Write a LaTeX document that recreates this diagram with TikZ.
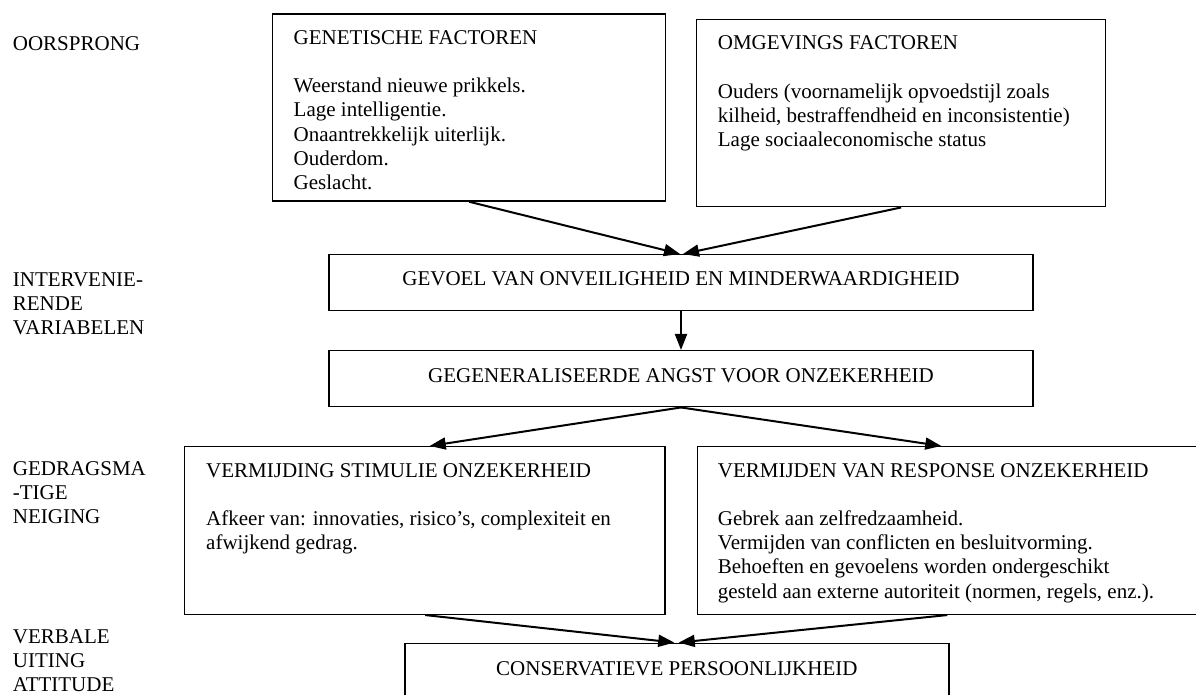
\documentclass[tikz,border=0pt]{standalone}
\usepackage{fontspec}
\setmainfont{Liberation Serif}
\usetikzlibrary{arrows.meta,calc}
\begin{document}
\begin{tikzpicture}[x=1pt,y=-1pt,
  box/.style={draw, line width=1.5pt, inner sep=0pt},
  txt/.style={inner sep=0pt, font=\fontsize{21}{24.2}\selectfont, anchor=base west},
  ctxt/.style={inner sep=0pt, font=\fontsize{21}{24.2}\selectfont, anchor=base},
  arr/.style={line width=2pt, -{Triangle[length=16pt,width=12pt]}}]
\useasboundingbox (0,0) rectangle (1196,694);
\fill[white] (0,0) rectangle (1196,694);
\clip (0,0) rectangle (1196,694);

% boxes
\node[box, minimum width=392.9pt, minimum height=187pt] (gen) at (469.15,107.5) {};
\node[box, minimum width=409.1pt, minimum height=187pt] (omg) at (901.15,113.2) {};
\node[box, minimum width=704pt, minimum height=56pt] (gevoel) at (681,282.7) {};
\node[box, minimum width=704pt, minimum height=56pt] (gegen) at (681,378.7) {};
\node[box, minimum width=480.3pt, minimum height=167.6pt] (stim) at (424.85,530.5) {};
\node[box, minimum width=512.3pt, minimum height=167.6pt] (resp) at (953.85,530.5) {};
\node[box, minimum width=543.8pt, minimum height=76.7pt] (cons) at (676.9,681.65) {};

% texts in boxes
\node[txt] (gent) at (293.5,44.3) {\begin{tabular}[t]{@{}l@{}}GENETISCHE FACTOREN\\ \\ Weerstand nieuwe prikkels.\\ Lage intelligentie.\\ Onaantrekkelijk uiterlijk.\\ Ouderdom.\\ Geslacht.\end{tabular}};
\node[txt] (omgt) at (717.7,49.6) {\begin{tabular}[t]{@{}l@{}}OMGEVINGS FACTOREN\\ \\ Ouders (voornamelijk opvoedstijl zoals\\ kilheid, bestraffendheid en inconsistentie)\\ Lage sociaaleconomische status\end{tabular}};
\node[ctxt] (gevoelt) at (681,285.6) {GEVOEL VAN ONVEILIGHEID EN MINDERWAARDIGHEID};
\node[ctxt] (gegent) at (681,382.5) {GEGENERALISEERDE ANGST VOOR ONZEKERHEID};
\node[txt] (stimt) at (206,477) {\begin{tabular}[t]{@{}l@{}}VERMIJDING STIMULIE ONZEKERHEID\\ \\ Afkeer van: innovaties, risico’s, complexiteit en\\ afwijkend gedrag.\end{tabular}};
\node[txt] (respt) at (717.7,477) {\begin{tabular}[t]{@{}l@{}}VERMIJDEN VAN RESPONSE ONZEKERHEID\\ \\ Gebrek aan zelfredzaamheid.\\ Vermijden van conflicten en besluitvorming.\\ Behoeften en gevoelens worden ondergeschikt\\ gesteld aan externe autoriteit (normen, regels, enz.).\end{tabular}};
\node[ctxt] (const) at (676.9,675.3) {CONSERVATIEVE PERSOONLIJKHEID};

% side labels
\node[txt] (lab1) at (12.7,50) {OORSPRONG};
\node[txt] (lab2) at (12.7,286.3) {\begin{tabular}[t]{@{}l@{}}INTERVENIE-\\ RENDE\\ VARIABELEN\end{tabular}};
\node[txt] (lab3) at (12.7,475.3) {\begin{tabular}[t]{@{}l@{}}GEDRAGSMA\\ -TIGE\\ NEIGING\end{tabular}};
\node[txt] (lab4) at (12.7,643.5) {\begin{tabular}[t]{@{}l@{}}VERBALE\\ UITING\\ ATTITUDE\end{tabular}};

% connectors
\draw[arr] (gen.south) -- ($(gevoel.north)+(-1,0)$);
\draw[arr] (omg.south) -- ($(gevoel.north)+(2,0)$);
\draw[arr] (gevoel.south) -- (gegen.north);
\draw[arr] (gegen.south) -- ($(stim.north west)+(245.8,0)$);
\draw[arr] (gegen.south) -- ($(resp.north west)+(244.3,0)$);
\draw[arr] ($(stim.south west)+(241.3,0)$) -- ($(cons.north west)+(270,0)$);
\draw[arr] ($(resp.south west)+(250.3,0)$) -- ($(cons.north west)+(274.5,0)$);
\end{tikzpicture}
\end{document}
